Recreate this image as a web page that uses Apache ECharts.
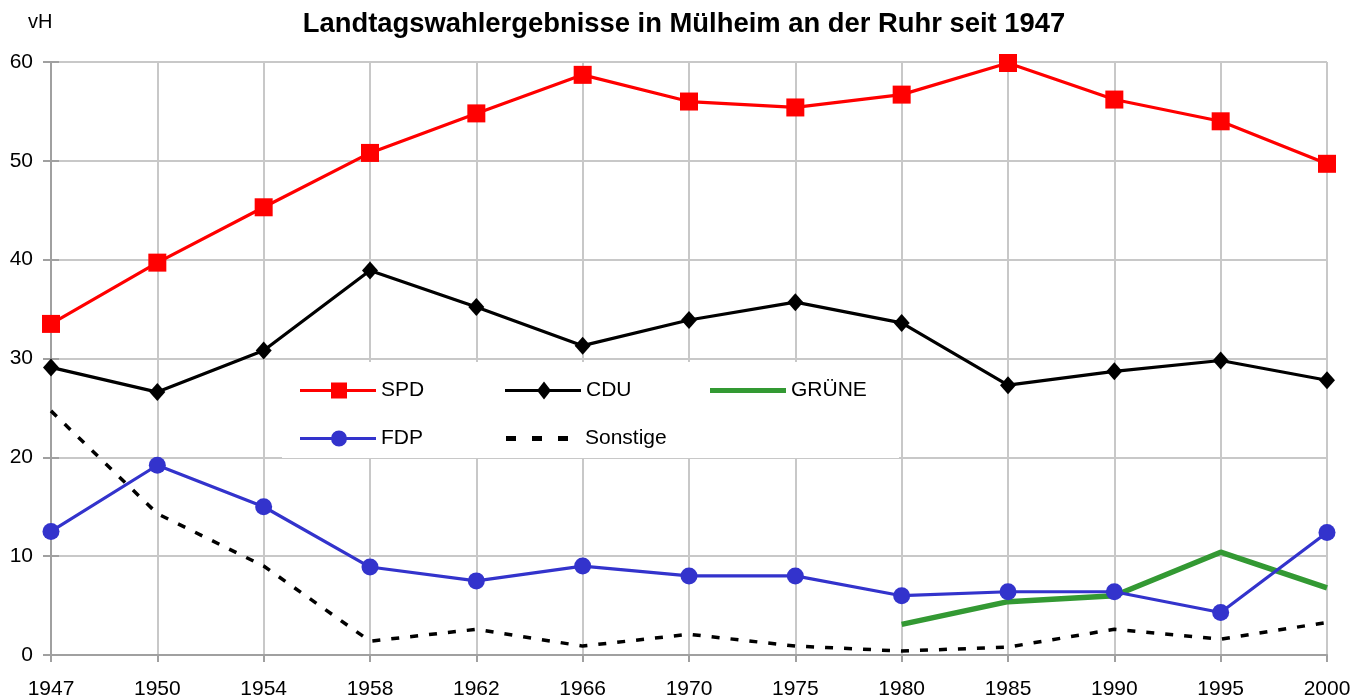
<!DOCTYPE html>
<html>
<head>
<meta charset="utf-8">
<script src="https://cdn.jsdelivr.net/npm/echarts@6/dist/echarts.min.js"></script>
<style>html,body{margin:0;padding:0;background:#fff}#c{width:1368px;height:700px}</style>
</head>
<body>
<div id="c"></div>
<script>
const years = ['1947','1950','1954','1958','1962','1966','1970','1975','1980','1985','1990','1995','2000'];
const spd = [33.5,39.7,45.3,50.8,54.8,58.7,56.0,55.4,56.7,59.9,56.2,54.0,49.7];
const cdu = [29.1,26.6,30.8,38.9,35.2,31.3,33.9,35.7,33.6,27.3,28.7,29.8,27.8];
const fdp = [12.5,19.2,15.0,8.9,7.5,9.0,8.0,8.0,6.0,6.4,6.4,4.3,12.4];
const gruene = [null,null,null,null,null,null,null,null,3.1,5.4,6.0,10.4,6.8];
const sonstige = [24.7,14.3,9.0,1.4,2.6,0.9,2.1,0.9,0.4,0.8,2.6,1.6,3.3];
const yTicks = [0,10,20,30,40,50,60];

const FONT = 'Liberation Sans, Arial, sans-serif';
const AX = '#a0a0a0';
const GRID = '#c8c8c8';
const chart = echarts.init(document.getElementById('c'));

const icons = {
  'SPD': 'path://M0,6.5H76V9.5H0Z M31,0H47V16H31Z',
  'CDU': 'path://M0,6.5H76V9.5H0Z M39,-1L46,8L39,17L32,8Z',
  'FDP': 'path://M0,6.5H76V9.5H0Z M31,8A8,8 0 1 1 47,8A8,8 0 1 1 31,8Z',
  'GRÜNE': 'path://M0,0H76V5H0Z',
  'Sonstige': 'path://M0,0H10V5H0Z M26,0H36V5H26Z M52,0H62V5H52Z'
};
function leg(name, left, cy, w, h, pad){
  return {data:[{name:name, icon:icons[name]}], left:left, top:cy - 9, itemWidth:w, itemHeight:h, itemGap:0,
    padding:0, selectedMode:false, itemStyle:{borderWidth:0},
    textStyle:{fontFamily:FONT, fontSize:21, color:'#000', padding:[0,0,0,pad||0]}};
}
chart.setOption({
  animation:false,
  title:{text:'Landtagswahlergebnisse in Mülheim an der Ruhr seit 1947', left:'center', top:6,
    textStyle:{fontFamily:FONT, fontSize:27.4, fontWeight:'bold', color:'#000'}},
  graphic:[
    {type:'text', left:28, top:12, style:{text:'vH', font:'20px '+FONT, fill:'#000'}},
    {type:'rect', shape:{x:282, y:362, width:617, height:96}, style:{fill:'#fff'}, z:1}
  ],
  legend:[
    leg('SPD',300,389,76,16), leg('CDU',505,389,76,18), leg('GRÜNE',710,389,76,5),
    leg('FDP',300,437,76,16), leg('Sonstige',506,437,62,5,12)
  ],
  grid:{left:51, right:41, top:62, bottom:43},
  xAxis:{type:'category', data:years, boundaryGap:false,
    axisLine:{lineStyle:{color:AX, width:2}},
    axisTick:{show:true, length:7, lineStyle:{color:AX, width:2}},
    axisLabel:{fontFamily:FONT, fontSize:21, color:'#000', margin:24},
    splitLine:{show:true, lineStyle:{color:GRID, width:2}}},
  yAxis:[
    {type:'value', min:yTicks[0], max:yTicks[yTicks.length-1], interval:10,
      axisLine:{show:true, lineStyle:{color:AX, width:2}},
      axisTick:{show:true, length:8, lineStyle:{color:AX, width:2}},
      axisLabel:{fontFamily:FONT, fontSize:21, color:'#000', margin:18},
      splitLine:{show:true, lineStyle:{color:GRID, width:2}}},
    {type:'value', min:yTicks[0], max:yTicks[yTicks.length-1], interval:10, position:'left',
      axisLine:{show:false},
      axisTick:{show:true, inside:true, length:8, lineStyle:{color:AX, width:2}},
      axisLabel:{show:false}, splitLine:{show:false}}
  ],
  series:[
    {name:'SPD', type:'line', data:spd, symbol:'rect', symbolSize:18, z:5,
      itemStyle:{color:'#ff0000'}, lineStyle:{color:'#ff0000', width:3.2}},
    {name:'CDU', type:'line', data:cdu, symbol:'diamond', symbolSize:[16,18], z:5,
      itemStyle:{color:'#000'}, lineStyle:{color:'#000', width:3.2}},
    {name:'GRÜNE', type:'line', data:gruene, symbol:'none', z:4,
      itemStyle:{color:'#339933'}, lineStyle:{color:'#339933', width:5.5}},
    {name:'FDP', type:'line', data:fdp, symbol:'circle', symbolSize:17, z:5,
      itemStyle:{color:'#3333cc'}, lineStyle:{color:'#3333cc', width:3.2}},
    {name:'Sonstige', type:'line', data:sonstige, symbol:'none', z:3,
      itemStyle:{color:'#000'}, lineStyle:{color:'#000', width:3.5, type:[8,11]}}
  ]
});
</script>
</body>
</html>
